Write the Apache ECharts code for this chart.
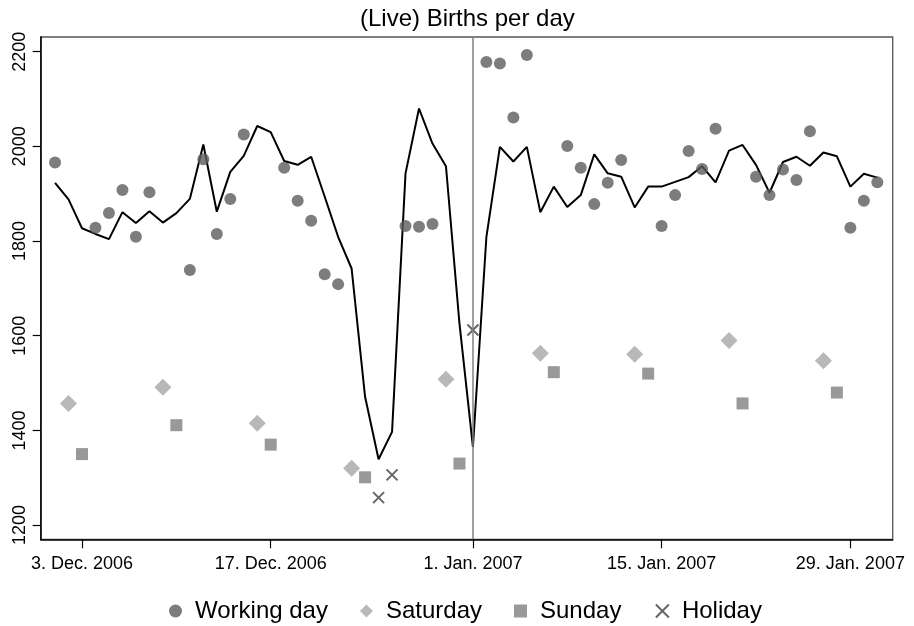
<!DOCTYPE html>
<html>
<head>
<meta charset="utf-8">
<script src="https://cdn.jsdelivr.net/npm/echarts@6/dist/echarts.min.js"></script>
<style>
html,body{margin:0;padding:0;background:#fff;}
#chart{width:914px;height:626px;}
</style>
</head>
<body>
<div id="chart"></div>
<script>
// Day index 0 = 1 Dec 2006
const tickDays = [2, 16, 31, 45, 59];
const tickLabels = ['3. Dec. 2006', '17. Dec. 2006', '1. Jan. 2007', '15. Jan. 2007', '29. Jan. 2007'];
const yTicks = [1200, 1400, 1600, 1800, 2000, 2200];

// expected births, one per day (1 Dec 2006 .. 31 Jan 2007)
const expected = [1923, 1888, 1827, 1815, 1804, 1861, 1838, 1863, 1839, 1859,
  1889, 2004, 1862, 1946, 1980, 2043, 2030, 1969, 1961, 1978,
  1894, 1809, 1742, 1471, 1339, 1397, 1943, 2080, 2006, 1958,
  1626, 1365, 1809, 1999, 1968, 1999, 1861, 1915, 1872, 1897,
  1983, 1943, 1936, 1871, 1915, 1915, 1925, 1935, 1958, 1924,
  1991, 2003, 1961, 1902, 1967, 1978, 1959, 1987, 1979, 1915,
  1942, 1934];

const workDays = [0, 3, 4, 5, 6, 7, 10, 11, 12, 13, 14, 17, 18, 19, 20, 21, 26, 27, 28,
  32, 33, 34, 35, 38, 39, 40, 41, 42, 45, 46, 47, 48, 49, 52, 53, 54, 55, 56, 59, 60, 61];
const workBirths = [1966, 1828, 1859, 1908, 1809, 1903, 1739, 1973, 1815, 1889, 2025,
  1955, 1885, 1843, 1730, 1709, 1832, 1830, 1836, 2178, 2175, 2061, 2193,
  2001, 1955, 1878, 1923, 1971, 1832, 1897, 1990, 1952, 2037, 1936, 1897,
  1951, 1929, 2032, 1828, 1885, 1924];

const satDays = [1, 8, 15, 22, 29, 36, 43, 50, 57];
const satBirths = [1457, 1491, 1415, 1320, 1508, 1563, 1561, 1590, 1547];

const sunDays = [2, 9, 16, 23, 30, 37, 44, 51, 58];
const sunBirths = [1350, 1411, 1370, 1301, 1330, 1523, 1520, 1457, 1480];

const holDays = [24, 25, 31];
const holBirths = [1258, 1306, 1612];

const newYearDay = 31;

function pairs(xs, ys) { return xs.map((x, i) => [x, ys[i]]); }

const FONT = '"Liberation Sans", Arial, Helvetica, sans-serif';
const chart = echarts.init(document.getElementById('chart'), null, { renderer: 'canvas' });

chart.setOption({
  animation: false,
  backgroundColor: '#fff',
  textStyle: { fontFamily: FONT },
  title: {
    text: '(Live) Births per day',
    left: 360, top: 7, padding: 0,
    textStyle: { fontFamily: FONT, fontSize: 24, fontWeight: 'normal', color: '#000' }
  },
  grid: {
    left: 40.7, right: 21.3, top: 37, bottom: 86.7,
    show: true, borderColor: '#555', borderWidth: 1.3, backgroundColor: 'transparent',
    outerBoundsMode: 'none'
  },
  legend: {
    left: 169, top: 599, padding: 0,
    itemWidth: 13, itemHeight: 13, itemGap: 32,
    data: ['Working day', 'Saturday', 'Sunday', 'Holiday'],
    textStyle: { fontFamily: FONT, fontSize: 24, color: '#000', padding: [0, 0, 0, 8] }
  },
  xAxis: {
    type: 'value', min: -1.064, max: 62.14,
    splitLine: { show: false },
    axisLine: { show: true, onZero: false, lineStyle: { color: '#000', width: 1.5 } },
    axisTick: { show: true, length: 9, customValues: tickDays, lineStyle: { color: '#000', width: 1.2 } },
    axisLabel: {
      customValues: tickDays, margin: 16, fontSize: 18, color: '#000', fontFamily: FONT,
      formatter: (v) => { const i = tickDays.indexOf(Math.round(v)); return i >= 0 ? tickLabels[i] : ''; }
    }
  },
  yAxis: {
    type: 'value', min: 1170, max: 2231,
    splitLine: { show: false },
    axisLine: { show: true, onZero: false, lineStyle: { color: '#000', width: 1.5 } },
    axisTick: { show: true, length: 8, customValues: yTicks, lineStyle: { color: '#000', width: 1.2 } },
    axisLabel: {
      customValues: yTicks, rotate: 90, margin: 12, fontSize: 18, color: '#000', fontFamily: FONT,
      formatter: (v) => String(Math.round(v))
    }
  },
  series: [
    {
      name: 'Expected', type: 'line',
      data: expected.map((v, i) => [i, v]),
      showSymbol: false, symbol: 'none',
      lineStyle: { color: '#000', width: 2 },
      z: 3,
      markLine: {
        silent: true, symbol: ['none', 'none'], label: { show: false },
        lineStyle: { color: '#808080', width: 1.5, type: 'solid' },
        data: [{ xAxis: newYearDay }]
      }
    },
    {
      name: 'Working day', type: 'scatter', symbol: 'circle', symbolSize: 12,
      data: pairs(workDays, workBirths),
      itemStyle: { color: '#5c5c5c' }, z: 4
    },
    {
      name: 'Saturday', type: 'scatter', symbol: 'diamond', symbolSize: 17,
      data: pairs(satDays, satBirths),
      itemStyle: { color: '#a6a6a6' }, z: 4
    },
    {
      name: 'Sunday', type: 'scatter', symbol: 'rect', symbolSize: 12,
      data: pairs(sunDays, sunBirths),
      itemStyle: { color: '#7f7f7f' }, z: 4
    },
    {
      name: 'Holiday', type: 'scatter', symbol: 'path://M0,0L10,10M0,10L10,0', symbolSize: 11,
      data: pairs(holDays, holBirths),
      itemStyle: { color: 'none', borderColor: '#404040', borderWidth: 2 }, z: 4
    }
  ]
});
</script>
</body>
</html>
